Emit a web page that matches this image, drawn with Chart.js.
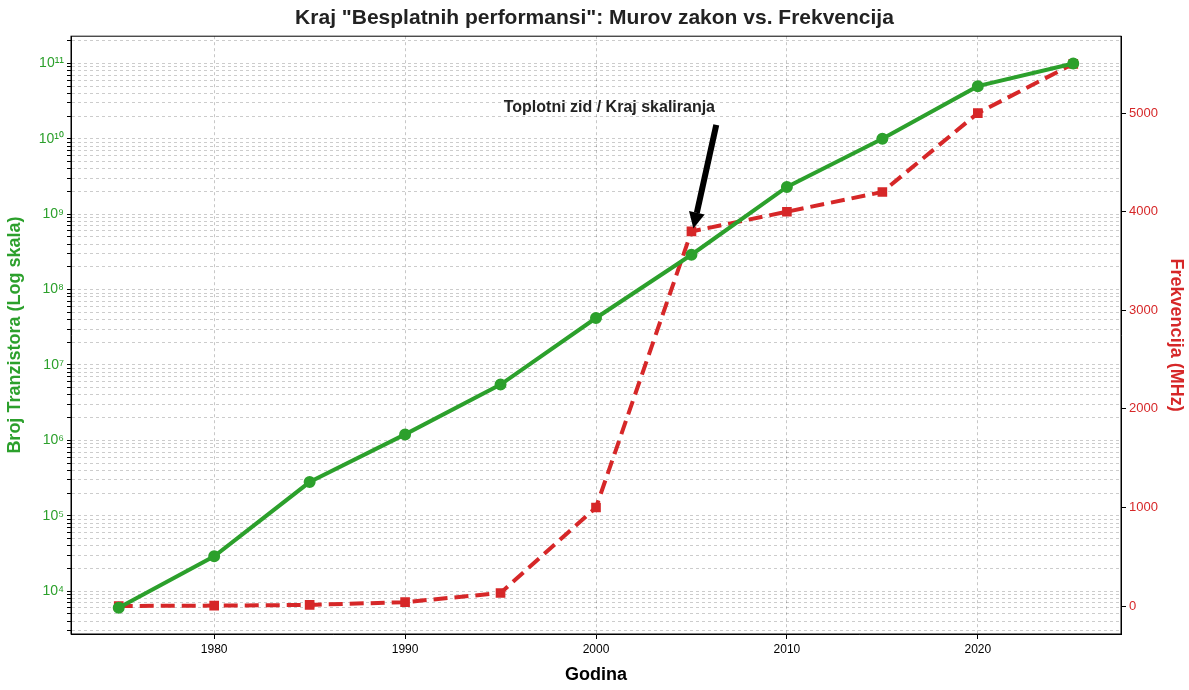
<!DOCTYPE html>
<html>
<head>
<meta charset="utf-8">
<script src="https://cdn.jsdelivr.net/npm/chart.js@4/dist/chart.umd.min.js"></script>
<style>
  html, body { margin: 0; padding: 0; background: #fff; }
  #wrap { width: 1189px; height: 690px; }
</style>
</head>
<body>
<div id="wrap"><canvas id="c"></canvas></div>
<script>
// ---- Podaci ----
const years = [1975, 1980, 1985, 1990, 1995, 2000, 2005, 2010, 2015, 2020, 2025];
const transistors = [6000, 29000, 280000, 1200000, 5500000, 42000000, 290000000, 2300000000, 10000000000, 50000000000, 100000000000];
const frequencyMHz = [1, 5, 12, 40, 133, 1000, 3800, 4000, 4200, 5000, 5500];
const xTicks = [1980, 1990, 2000, 2010, 2020];
const freqTicks = [0, 1000, 2000, 3000, 4000, 5000];
const annotationText = "Toplotni zid / Kraj skaliranja";

const GREEN = "#2ca02c";
const RED = "#d62728";
const FONT = "'Liberation Sans', Arial, sans-serif";
const sup = { "0": "⁰", "1": "¹", "2": "²", "3": "³", "4": "⁴", "5": "⁵", "6": "⁶", "7": "⁷", "8": "⁸", "9": "⁹" };

// strelica i tekst anotacije
const annotate = {
  id: "annotate",
  afterDatasetsDraw(chart) {
    const { ctx, scales } = chart;
    const x = scales.x, y = scales.y2;
    const tipX = x.getPixelForValue(2005.1), tipY = y.getPixelForValue(3830);
    const tailX = x.getPixelForValue(2006.3), tailY = y.getPixelForValue(4880);
    ctx.save();
    const ang = Math.atan2(tipY - tailY, tipX - tailX);
    const head = 16, hw = 8;
    const bx = tipX - head * Math.cos(ang), by = tipY - head * Math.sin(ang);
    ctx.strokeStyle = "#000";
    ctx.lineWidth = 6;
    ctx.beginPath();
    ctx.moveTo(tailX, tailY);
    ctx.lineTo(bx, by);
    ctx.stroke();
    ctx.fillStyle = "#000";
    ctx.beginPath();
    ctx.moveTo(tipX, tipY);
    ctx.lineTo(bx + hw * Math.sin(ang), by - hw * Math.cos(ang));
    ctx.lineTo(bx - hw * Math.sin(ang), by + hw * Math.cos(ang));
    ctx.closePath();
    ctx.fill();
    ctx.font = "bold 16px " + FONT;
    ctx.fillStyle = "#222";
    ctx.textAlign = "center";
    ctx.textBaseline = "middle";
    ctx.fillText(annotationText, x.getPixelForValue(2000.7), y.getPixelForValue(5060));
    ctx.restore();
  }
};

const frame = {
  id: "frame",
  afterDraw(chart) {
    const a = chart.chartArea, ctx = chart.ctx;
    ctx.save();
    ctx.strokeStyle = "#000";
    ctx.lineWidth = 1;
    ctx.strokeRect(a.left, a.top, a.right - a.left, a.bottom - a.top);
    ctx.restore();
  }
};

new Chart(document.getElementById("c"), {
  type: "line",
  data: {
    labels: years,
    datasets: [
      {
        label: "Broj tranzistora",
        data: years.map((yr, i) => ({ x: yr, y: transistors[i] })),
        yAxisID: "y",
        borderColor: GREEN,
        backgroundColor: GREEN,
        borderWidth: 4,
        pointRadius: 4,
        pointStyle: "circle",
        tension: 0,
      },
      {
        label: "Frekvencija",
        data: years.map((yr, i) => ({ x: yr, y: frequencyMHz[i] })),
        yAxisID: "y2",
        borderColor: RED,
        backgroundColor: RED,
        borderWidth: 4,
        borderDash: [14, 7],
        pointRadius: 4,
        pointStyle: "rect",
        tension: 0,
      },
    ],
  },
  options: {
    responsive: true,
    maintainAspectRatio: false,
    animation: false,
    layout: { padding: 0 },
    plugins: {
      legend: { display: false },
      tooltip: { enabled: false },
      title: {
        display: true,
        text: 'Kraj "Besplatnih performansi": Murov zakon vs. Frekvencija',
        color: "#222",
        font: { family: FONT, size: 21, weight: "bold" },
        padding: { top: 6, bottom: 5 },
      },
    },
    scales: {
      x: {
        type: "linear",
        min: 1972.5,
        max: 2027.5,
        afterFit: (s) => { s.height = 56; },
        afterBuildTicks: (s) => { s.ticks = xTicks.map(v => ({ value: v })); },
        ticks: { color: "#000", font: { family: FONT, size: 12 }, callback: (v) => String(v) },
        grid: { color: "rgba(0,0,0,0.22)", tickColor: "#000", tickLength: 5 },
        border: { display: true, color: "#000", dash: [3, 3] },
        title: { display: true, text: "Godina", color: "#000", font: { family: FONT, size: 18, weight: "bold" }, padding: { top: 4 } },
      },
      y: {
        type: "logarithmic",
        position: "left",
        min: 2700,
        max: 2.3e11,
        afterFit: (s) => { s.width = 71; },
        afterBuildTicks: (s) => {
          const t = [];
          for (let e = 3; e <= 11; e++) {
            for (let m = 1; m <= 9; m++) {
              const v = m * Math.pow(10, e);
              if (v >= s.min && v <= s.max) t.push({ value: v, major: m === 1 });
            }
          }
          s.ticks = t;
        },
        ticks: {
          color: GREEN,
          autoSkip: false,
          font: { family: FONT, size: 14 },
          callback: (v) => {
            const e = Math.log10(v);
            if (Math.abs(e - Math.round(e)) > 1e-9) return "";
            return "10" + String(Math.round(e)).split("").map(d => sup[d]).join("");
          },
        },
        grid: { color: "rgba(0,0,0,0.2)", tickColor: "#000", tickLength: 4 },
        border: { color: "#000", dash: [3, 3] },
        title: { display: true, text: "Broj Tranzistora (Log skala)", color: GREEN, font: { family: FONT, size: 18, weight: "bold" } },
      },
      y2: {
        type: "linear",
        position: "right",
        min: -283,
        max: 5780,
        afterFit: (s) => { s.width = 68; },
        afterBuildTicks: (s) => { s.ticks = freqTicks.map(v => ({ value: v })); },
        ticks: { color: RED, font: { family: FONT, size: 13 }, callback: (v) => String(v) },
        grid: { drawOnChartArea: false, tickColor: "#000", tickLength: 5 },
        border: { color: "#000" },
        title: { display: true, text: "Frekvencija (MHz)", color: RED, font: { family: FONT, size: 18, weight: "bold" }, padding: { top: 2, bottom: 6 } },
      },
    },
  },
  plugins: [annotate, frame],
});
</script>
</body>
</html>
